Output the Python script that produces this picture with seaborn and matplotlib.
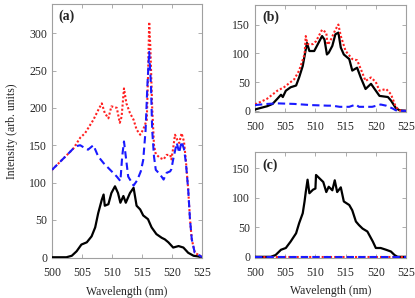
import matplotlib
matplotlib.use("Agg")
import matplotlib.pyplot as plt
import seaborn as sns

# ---------------- data ----------------
# panel (a)
wl_a_black = [500, 502.4, 503.3, 504.1, 504.9, 505.8, 506.6, 507.2, 507.7, 508.3, 508.6, 508.8,
              509.4, 509.9, 510.5, 511.0, 511.4, 511.9, 512.3, 513.0, 513.6, 514.1, 514.7, 515.2,
              516.0, 516.6, 517.4, 518.3, 518.8, 519.4, 520.2, 521.1, 521.9, 522.7, 523.6, 524.5, 525]
int_a_black = [0, 0, 2, 8, 17, 20, 28, 40, 59, 77, 84, 69,
               71, 86, 95, 86, 73, 82, 73, 86, 93, 69, 64, 56,
               51, 40, 31, 26, 24, 20, 13, 15, 13, 6, 2, 1, 0]

wl_a_red = [500, 501, 502, 503, 503.6, 504.7, 505.5, 506.9, 507.7, 508.3, 508.8, 509.4, 509.9,
            510.8, 511.3, 511.6, 512.0, 512.4, 513.0, 513.6, 514.1, 514.7, 515.2, 515.8, 516.0,
            516.2, 516.4, 516.7, 517.0, 517.3, 518.0, 518.6, 519.1, 519.7, 519.9, 520.2, 520.5,
            520.9, 521.2, 521.6, 522.0, 522.3, 522.7, 523.0, 523.3, 523.8, 524.7, 525]
int_a_red = [117, 125, 133, 141, 146, 160, 166, 184, 197, 206, 193, 186, 202,
             200, 180, 188, 226, 206, 193, 184, 171, 164, 171, 184, 240,
             315, 280, 200, 150, 138, 133, 131, 137, 137, 131, 146, 164,
             157, 153, 166, 155, 131, 91, 51, 24, 6, 2, 0]

wl_a_blue = [500, 501, 502, 503, 503.6, 504.2, 504.7, 505.5, 506.0, 506.9, 507.7, 508.6, 509.7,
             510.8, 511.4, 511.7, 512.0, 512.3, 512.7, 513.6, 514.2, 514.8, 515.2, 515.6, 515.9,
             516.2, 516.5, 516.7, 517.0, 517.3, 518.0, 518.6, 519.1, 519.7, 519.9, 520.2, 520.8,
             521.2, 521.6, 522.0, 522.3, 522.7, 523.0, 523.3, 523.8, 524.7, 525]
int_a_blue = [117, 125, 133, 141, 146, 149, 150, 146, 144, 150, 135, 126, 117,
              108, 102, 135, 155, 135, 108, 96, 103, 115, 130, 170, 230,
              275, 230, 170, 135, 117, 111, 104, 113, 115, 118, 131, 153,
              140, 155, 145, 128, 91, 51, 24, 6, 2, 0]

# panel (b)
wl_b_black = [500, 500.2, 502.0, 502.9, 503.7, 504.3, 504.6, 505.1, 505.9, 506.8, 507.3, 507.9,
              508.3, 508.6, 509.0, 509.8, 510.4, 511.1, 511.5, 511.9, 512.2, 512.8, 513.3, 513.8,
              514.2, 514.7, 515.6, 516.1, 516.9, 517.5, 518.3, 519.2, 520.0, 520.6, 522.0, 522.5,
              523.3, 523.9, 525]
int_b_black = [2, 3, 8, 12, 21, 28, 24, 35, 41, 44, 58, 78,
               101, 118, 104, 104, 116, 130, 124, 98, 101, 113, 133, 136,
               110, 98, 90, 70, 75, 58, 38, 47, 35, 26, 24, 18,
               5, 1, 0]

wl_b_red = [500, 500.2, 502.0, 503.7, 504.8, 506.5, 507.3, 508.2, 508.4, 508.7, 509.6, 510.1,
            511.1, 511.8, 512.0, 512.4, 513.3, 513.8, 514.2, 515.0, 516.1, 516.9, 517.5, 518.3,
            519.2, 520.0, 520.6, 521.7, 522.5, 523.3, 523.9, 525]
int_b_red = [12, 12, 21, 35, 41, 55, 70, 98, 130, 116, 116, 121,
             141, 136, 115, 120, 141, 150, 130, 104, 90, 88, 73, 52,
             58, 50, 35, 38, 29, 7, 1, 0]

wl_b_blue = [500, 502, 503.7, 506.5, 509.3, 512, 512.8, 514, 515.6, 516.7, 517.2, 519.4,
             520.8, 521.7, 522.8, 523.3, 524, 525]
int_b_blue = [10, 12, 13, 12, 10, 9, 9, 7, 7, 11, 7, 7,
              11, 9, 4, 1, 0, 0]

# panel (c)
wl_c_black = [500, 500.2, 502.6, 503.4, 504.3, 505.1, 505.9, 506.8, 507.3, 507.9, 508.2, 508.4,
              508.7, 509.0, 509.6, 510.0, 510.1, 510.7, 511.3, 511.8, 512.2, 512.8, 513.2, 513.6,
              514.2, 514.7, 515.6, 516.1, 516.7, 517.2, 517.8, 518.6, 519.5, 520.0, 520.8, 521.7,
              522.5, 523.1, 523.6, 525]
int_c_black = [0, 0, 0, 3, 12, 15, 26, 40, 57, 74, 94, 110,
               131, 108, 114, 116, 139, 133, 127, 110, 119, 113, 130, 110,
               118, 94, 88, 79, 60, 54, 48, 43, 26, 15, 15, 12,
               9, 3, 0, 0]
wl_c_red = [500, 525]
int_c_red = [0, 0]
wl_c_blue = [500, 525]
int_c_blue = [0, 0]

xticks = [500, 505, 510, 515, 520, 525]

# ---------------- style ----------------
sns.set_style("ticks")
plt.rcParams['font.family'] = ['Liberation Serif', 'DejaVu Serif']
plt.rcParams['font.size'] = 8.5

fig = plt.figure(figsize=(4.15, 2.98), dpi=100)
ax_a = fig.add_axes([0.1253, 0.1342, 0.3614, 0.8523])
ax_b = fig.add_axes([0.6145, 0.6242, 0.3639, 0.3590])
ax_c = fig.add_axes([0.6145, 0.1342, 0.3639, 0.3557])

def draw(ax, wb, ib, wr, ir, wbl, ibl):
    sns.lineplot(x=wb, y=ib, ax=ax, color='black', linewidth=1.6, estimator=None, zorder=3)
    sns.lineplot(x=wr, y=ir, ax=ax, color='#ff2020', linewidth=1.5, linestyle=(0, (1, 1)),
                 estimator=None, zorder=4)
    sns.lineplot(x=wbl, y=ibl, ax=ax, color='#1a1aff', linewidth=1.5, linestyle=(0, (3.5, 2)),
                 estimator=None, zorder=5)

draw(ax_a, wl_a_black, int_a_black, wl_a_red, int_a_red, wl_a_blue, int_a_blue)
draw(ax_b, wl_b_black, int_b_black, wl_b_red, int_b_red, wl_b_blue, int_b_blue)
draw(ax_c, wl_c_black, int_c_black, wl_c_red, int_c_red, wl_c_blue, int_c_blue)

ax_a.set_ylim(-1, 339)
ax_a.set_yticks([0, 50, 100, 150, 200, 250, 300])
ax_b.set_ylim(-2, 184)
ax_b.set_yticks([0, 50, 100, 150])
ax_c.set_ylim(-2, 178)
ax_c.set_yticks([0, 50, 100, 150])

for ax in (ax_a, ax_b, ax_c):
    ax.set_xlim(500, 525)
    ax.set_xticks(xticks)
    for s in ax.spines.values():
        s.set_visible(True)
        s.set_color('#a0a0a0')
        s.set_linewidth(0.8)
    ax.tick_params(direction='in', length=3, width=0.6, color='#a0a0a0',
                   top=True, right=True, labelsize=8.5)
    ax.tick_params(axis='x', pad=6.5)
    ax.tick_params(axis='y', pad=3.5)
    ax.set_xlabel('')
    ax.set_ylabel('')

ax_a.set_ylabel('Intensity (arb. units)', fontsize=8.5, labelpad=8)
ax_a.set_xlabel('Wavelength (nm)', fontsize=8.5, labelpad=5)
ax_c.set_xlabel('Wavelength (nm)', fontsize=8.5, labelpad=4)

ax_a.text(0.04, 0.953, '(a)', transform=ax_a.transAxes, fontsize=10, fontweight='bold',
          va='center', ha='left')
ax_b.text(0.05, 0.885, '(b)', transform=ax_b.transAxes, fontsize=10, fontweight='bold',
          va='center', ha='left')
ax_c.text(0.05, 0.877, '(c)', transform=ax_c.transAxes, fontsize=10, fontweight='bold',
          va='center', ha='left')

fig.savefig('out.png', dpi=100)
